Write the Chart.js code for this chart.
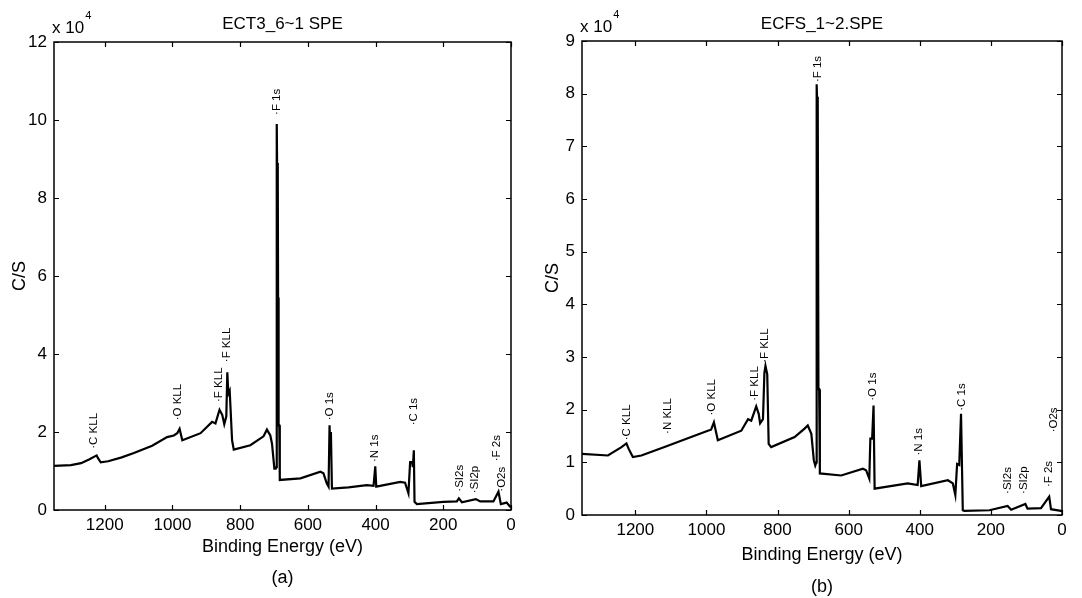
<!DOCTYPE html>
<html>
<head>
<meta charset="utf-8">
<script src="https://cdn.jsdelivr.net/npm/chart.js@4/dist/chart.umd.min.js"></script>
<style>
  body { margin: 0; background: #fff; }
  #wrap { position: relative; width: 1082px; height: 598px; }
  canvas { position: absolute; top: 0; }
</style>
</head>
<body>
<div id="wrap">
  <canvas id="chartA" width="541" height="598" style="left:0"></canvas>
  <canvas id="chartB" width="541" height="598" style="left:541px"></canvas>
</div>
<script>
// binding energy (eV) and counts (x 10^4)
var energyA = [1350, 1300, 1270, 1245, 1224, 1220, 1212, 1190, 1150, 1114, 1060, 1016, 996, 986, 979, 971, 917, 883, 873, 861, 853, 847, 841, 838, 835, 831, 824, 819, 770, 731, 721, 711, 706, 699, 695, 693, 692, 691, 689, 688, 687, 686, 684.5, 683, 622, 563, 554, 544, 539, 536, 534, 532, 529, 480, 426, 406, 401, 398, 327, 313, 303, 298, 292, 290, 287, 285, 278, 200, 160, 154, 145, 104, 91, 52, 37, 30, 13, 3, 0];
var countsA = [1.13, 1.15, 1.20, 1.30, 1.40, 1.33, 1.22, 1.25, 1.35, 1.46, 1.65, 1.87, 1.91, 1.97, 2.08, 1.79, 1.97, 2.26, 2.22, 2.57, 2.44, 2.20, 2.40, 3.53, 2.98, 3.06, 1.79, 1.55, 1.66, 1.89, 2.06, 1.91, 1.70, 1.06, 1.06, 1.10, 9.90, 8.90, 8.70, 5.45, 5.40, 2.17, 2.17, 0.77, 0.81, 0.98, 0.94, 0.68, 0.60, 2.17, 1.57, 2.00, 0.55, 0.58, 0.64, 0.62, 1.12, 0.60, 0.72, 0.70, 0.43, 1.23, 1.23, 1.10, 1.53, 0.21, 0.15, 0.21, 0.22, 0.30, 0.20, 0.28, 0.22, 0.22, 0.47, 0.15, 0.19, 0.09, 0.08];

var energyB = [1350, 1277, 1239, 1225, 1219, 1207, 1183, 1118, 1043, 996, 987, 979, 968, 902, 883, 874, 860, 853, 849, 841, 837, 834, 829, 825, 818, 752, 724, 715, 705, 698, 694, 691, 690, 689, 687, 685, 683, 681, 621, 560, 551, 542, 539, 534, 530, 527, 434, 406, 401, 396, 321, 307, 300, 295, 289, 284, 279, 275, 204, 153, 143, 103, 97, 59, 36, 31, 3, 0];
var countsB = [1.16, 1.13, 1.29, 1.36, 1.26, 1.10, 1.13, 1.29, 1.48, 1.60, 1.62, 1.76, 1.42, 1.60, 1.82, 1.79, 2.06, 1.92, 1.74, 1.82, 2.70, 2.83, 2.67, 1.35, 1.29, 1.48, 1.64, 1.70, 1.54, 1.04, 0.94, 1.00, 8.18, 7.94, 7.90, 2.39, 2.39, 0.79, 0.75, 0.88, 0.85, 0.69, 1.45, 1.45, 2.08, 0.50, 0.60, 0.57, 1.04, 0.55, 0.66, 0.60, 0.38, 0.97, 0.95, 1.92, 0.09, 0.08, 0.09, 0.17, 0.10, 0.21, 0.12, 0.13, 0.35, 0.11, 0.08, 0.08];

// peak names, where they sit (eV) and where the text starts (x 10^4)
var peaksA = ["C KLL", "O KLL", "F KLL", "F KLL", "F 1s", "O 1s", "N 1s", "C 1s", "SI2s", "SI2p", "F 2s", "O2s"];
var peakEA = [1232, 983, 863, 839, 691, 534, 401, 288, 152, 106, 42, 28];
var peakYA = [1.57, 2.30, 2.77, 3.79, 10.13, 2.30, 1.23, 2.17, 0.47, 0.43, 1.25, 0.47];

var peaksB = ["C KLL", "N KLL", "O KLL", "F KLL", "F KLL", "F 1s", "O 1s", "N 1s", "C 1s", "SI2s", "SI2p", "F 2s", "O2s"];
var peakEB = [1225, 1110, 985, 865, 835, 688, 532, 403, 282, 153, 106, 36, 22];
var peakYB = [1.42, 1.54, 1.89, 2.17, 2.89, 8.22, 2.17, 1.13, 1.98, 0.40, 0.40, 0.53, 1.57];

var xTicks = [0, 200, 400, 600, 800, 1000, 1200];
var yTicksA = [0, 2, 4, 6, 8, 10, 12];
var yTicksB = [0, 1, 2, 3, 4, 5, 6, 7, 8, 9];

var FONT = '"Liberation Sans", Arial, sans-serif';

function toPoints(xs, ys) {
  return xs.map(function (x, i) { return { x: x, y: ys[i] }; });
}

var decor = {
  id: 'decor',
  afterDraw: function (chart, args, o) {
    var ctx = chart.ctx, a = chart.chartArea;
    var x = chart.scales.x, y = chart.scales.y;
    ctx.save();
    ctx.strokeStyle = '#000';
    ctx.lineWidth = 1.5;
    ctx.strokeRect(a.left, a.top, a.right - a.left, a.bottom - a.top);
    ctx.lineWidth = 1.2;
    ctx.beginPath();
    x.ticks.forEach(function (t) {
      var px = Math.round(x.getPixelForValue(t.value)) + 0.5;
      ctx.moveTo(px, a.bottom); ctx.lineTo(px, a.bottom - 5);
      ctx.moveTo(px, a.top); ctx.lineTo(px, a.top + 5);
    });
    y.ticks.forEach(function (t) {
      var py = Math.round(y.getPixelForValue(t.value)) + 0.5;
      ctx.moveTo(a.left, py); ctx.lineTo(a.left + 5, py);
      ctx.moveTo(a.right, py); ctx.lineTo(a.right - 5, py);
    });
    ctx.stroke();

    ctx.fillStyle = '#000';

    // title over the plot box
    ctx.font = '17px ' + FONT;
    ctx.textAlign = 'center';
    ctx.textBaseline = 'middle';
    ctx.fillText(o.title, (a.left + a.right) / 2, 24);

    // rotated peak labels
    ctx.font = '11.5px ' + FONT;
    ctx.textAlign = 'left';
    o.names.forEach(function (n, i) {
      ctx.save();
      ctx.translate(x.getPixelForValue(o.energies[i]), y.getPixelForValue(o.heights[i]));
      ctx.rotate(-Math.PI / 2);
      ctx.fillText('\u00b7' + n, 0, 0);
      ctx.restore();
    });

    // exponent
    ctx.font = '17px ' + FONT;
    ctx.fillText('x 10', a.left - 2, a.top - 14);
    var w = ctx.measureText('x 10').width;
    ctx.font = '11px ' + FONT;
    ctx.fillText('4', a.left - 1 + w, a.top - 26);

    // panel letter
    ctx.font = '18px ' + FONT;
    ctx.textAlign = 'center';
    ctx.fillText(o.letter, (a.left + a.right) / 2, a.bottom + o.letterGap);
    ctx.restore();
  }
};

function makeChart(id, cfg) {
  return new Chart(document.getElementById(id), {
    type: 'line',
    data: {
      datasets: [{
        data: toPoints(cfg.energy, cfg.counts),
        borderColor: '#000',
        borderWidth: 2.2,
        pointRadius: 0,
        tension: 0,
        fill: false
      }]
    },
    options: {
      responsive: false,
      animation: false,
      devicePixelRatio: 1,
      layout: { padding: { left: 0, right: cfg.padRight, top: cfg.padTop, bottom: 0 } },
      plugins: {
        legend: { display: false },
        tooltip: { enabled: false },
        decor: {
          title: cfg.title,
          names: cfg.names, energies: cfg.peakE, heights: cfg.peakY,
          letter: cfg.letter, letterGap: cfg.letterGap
        }
      },
      scales: {
        x: {
          type: 'linear',
          reverse: true,
          min: 0,
          max: 1350,
          afterBuildTicks: function (s) { s.ticks = xTicks.map(function (v) { return { value: v }; }); },
          afterFit: function (s) { s.height = cfg.xHeight; },
          grid: { display: false, drawTicks: false },
          border: { display: false },
          ticks: {
            color: '#000', padding: 5, maxRotation: 0,
            font: { family: FONT, size: 17 },
            callback: function (v) { return String(v); }
          },
          title: {
            display: true, text: 'Binding Energy (eV)', color: '#000',
            font: { family: FONT, size: 18 },
            padding: { top: 0, bottom: cfg.xTitlePad }
          }
        },
        y: {
          min: 0,
          max: cfg.yMax,
          afterBuildTicks: function (s) { s.ticks = cfg.yTicks.map(function (v) { return { value: v }; }); },
          afterFit: function (s) { s.width = cfg.yWidth; },
          grid: { display: false, drawTicks: false },
          border: { display: false },
          ticks: {
            color: '#000', padding: 7,
            font: { family: FONT, size: 17 },
            callback: function (v) { return String(v); }
          },
          title: {
            display: true, text: 'C/S', color: '#000',
            font: { family: FONT, size: 18 },
            padding: { top: cfg.yTitlePad, bottom: 0 }
          }
        }
      }
    },
    plugins: [decor]
  });
}

makeChart('chartA', {
  energy: energyA, counts: countsA, title: 'ECT3_6~1 SPE',
  names: peaksA, peakE: peakEA, peakY: peakYA, letter: '(a)', letterGap: 68,
  yMax: 12, yTicks: yTicksA, padRight: 30, padTop: 42,
  xHeight: 88, yWidth: 54, xTitlePad: 40, yTitlePad: 9
});

makeChart('chartB', {
  energy: energyB, counts: countsB, title: 'ECFS_1~2.SPE',
  names: peaksB, peakE: peakEB, peakY: peakYB, letter: '(b)', letterGap: 72,
  yMax: 9, yTicks: yTicksB, padRight: 20, padTop: 41,
  xHeight: 83, yWidth: 41, xTitlePad: 32, yTitlePad: 1
});
</script>
</body>
</html>
